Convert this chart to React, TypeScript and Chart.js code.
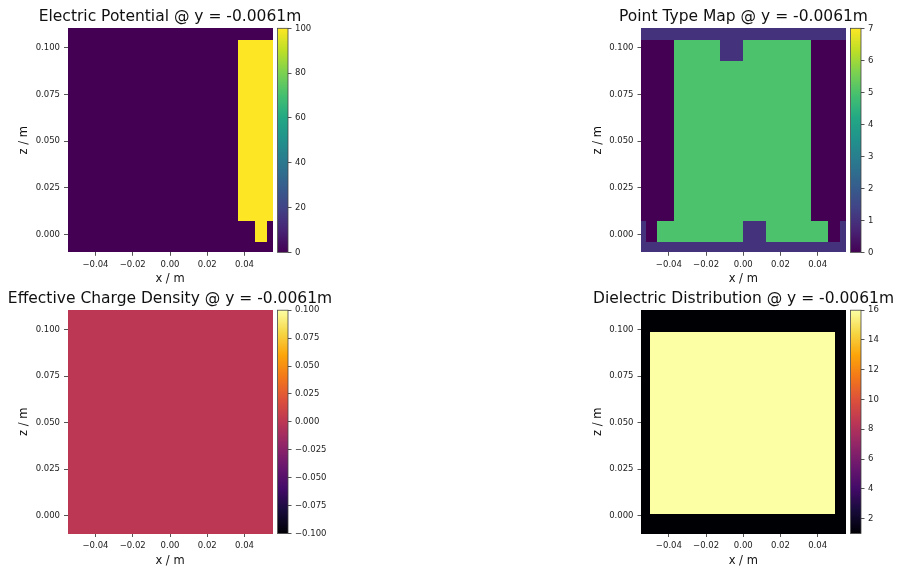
import React, { useEffect, useRef } from "react";
import { Chart, registerables } from "chart.js";

Chart.register(...registerables);

// ---------------- data ----------------
const titleSuffix = " @ y = -0.0061m";
const panelTitles = [
  "Electric Potential",
  "Point Type Map",
  "Effective Charge Density",
  "Dielectric Distribution",
];
const xLabel = "x / m";
const zLabel = "z / m";
const xTicks = [-0.04, -0.02, 0, 0.02, 0.04];
const zTicks = [0, 0.025, 0.05, 0.075, 0.1];
const xRange = [-0.055, 0.055];
const zRange = [-0.0096, 0.1104];

// cell edges shared by potential and point-type maps
const xEdges = [-0.055, -0.0525, -0.0465, -0.0371, -0.0127, 0.0, 0.012, 0.0364, 0.0455, 0.052, 0.055];
const zEdges = [-0.0096, -0.0043, 0.0073, 0.0927, 0.1041, 0.1104];

// rows from bottom (low z) to top (high z)
const potentialValues = [
  [0, 0, 0, 0, 0, 0, 0, 0, 0, 0],
  [0, 0, 0, 0, 0, 0, 0, 0, 100, 0],
  [0, 0, 0, 0, 0, 0, 0, 100, 100, 100],
  [0, 0, 0, 0, 0, 0, 0, 100, 100, 100],
  [0, 0, 0, 0, 0, 0, 0, 0, 0, 0],
];
const pointTypeValues = [
  [1, 1, 1, 1, 1, 1, 1, 1, 1, 1],
  [1, 0, 5, 5, 5, 1, 5, 5, 0, 1],
  [0, 0, 0, 5, 5, 5, 5, 0, 0, 0],
  [0, 0, 0, 5, 1, 5, 5, 0, 0, 0],
  [1, 1, 1, 1, 1, 1, 1, 1, 1, 1],
];
const chargeXEdges = [-0.055, 0.055];
const chargeZEdges = [-0.0096, 0.1104];
const chargeValues = [[0]];
const dielXEdges = [-0.055, -0.05, 0.0496, 0.055];
const dielZEdges = [-0.0096, 0.0008, 0.0988, 0.1104];
const dielValues = [
  [1, 1, 1],
  [1, 16, 1],
  [1, 1, 1],
];

const potentialRange = [0, 100];
const pointTypeRange = [0, 7];
const chargeRange = [-0.1, 0.1];
const dielRange = [1, 16];
const potentialTicks = [0, 20, 40, 60, 80, 100];
const pointTypeTicks = [0, 1, 2, 3, 4, 5, 6, 7];
const chargeTicks = [-0.1, -0.075, -0.05, -0.025, 0, 0.025, 0.05, 0.075, 0.1];
const dielTicks = [2, 4, 6, 8, 10, 12, 14, 16];

// ---------------- colormaps ----------------
const VIRIDIS = ["#440154", "#482475", "#414487", "#355f8d", "#2a788e", "#21918c", "#22a884", "#44bf70", "#7ad151", "#bddf26", "#fde725"];
const INFERNO = ["#000004", "#160b39", "#420a68", "#6a176e", "#932667", "#bc3754", "#dd513a", "#f37819", "#fca50a", "#f6d746", "#fcffa4"];

function hexToRgb(h: string) {
  const n = parseInt(h.slice(1), 16);
  return [(n >> 16) & 255, (n >> 8) & 255, n & 255];
}
function cmapColor(stops: string[], t: number) {
  const tt = Math.max(0, Math.min(1, t));
  const s = tt * (stops.length - 1);
  const i = Math.min(Math.floor(s), stops.length - 2);
  const f = s - i;
  const a = hexToRgb(stops[i]);
  const b = hexToRgb(stops[i + 1]);
  const c = a.map((v, k) => Math.round(v + (b[k] - v) * f));
  return `rgb(${c[0]},${c[1]},${c[2]})`;
}

const FONT = "'DejaVu Sans', sans-serif";
const TEXT = "#111";
const TICK_TEXT = "#222";
const TICK_LINE = "#555";
const fmt = (v: number, d: number) => v.toFixed(d).replace("-", "\u2212");

type PanelCfg = {
  title: string;
  xe: number[];
  ze: number[];
  values: number[][];
  cmap: string[];
  range: number[];
  cbTicks: number[];
  cbDigits: number;
  left: number;
  top: number;
  axisL: number;
  plotW: number;
  canvasW: number;
  titleH: number;
  plotH: number;
  axisB: number;
  xTitlePad: number;
};

function HeatPanel({ cfg }: { cfg: PanelCfg }) {
  const heatRef = useRef<HTMLCanvasElement>(null);
  const cbRef = useRef<HTMLCanvasElement>(null);
  const canvasH = Math.round(cfg.titleH + cfg.plotH + cfg.axisB);
  const cbPageLeft = cfg.left + cfg.axisL + cfg.plotW + 5;
  const cbCanvasLeft = Math.floor(cbPageLeft);
  const cbPadL = cbPageLeft - cbCanvasLeft;
  const cbW = 10.5;
  const cbCanvasW = 64;

  useEffect(() => {
    const heatPlugin = {
      id: "heatcells",
      beforeDatasetsDraw(chart: any) {
        const { ctx, scales } = chart;
        const xs = scales.x;
        const ys = scales.y;
        ctx.save();
        cfg.values.forEach((row, j) => {
          row.forEach((v, i) => {
            const x0 = Math.round(xs.getPixelForValue(cfg.xe[i]));
            const x1 = Math.round(xs.getPixelForValue(cfg.xe[i + 1]));
            const y0 = Math.round(ys.getPixelForValue(cfg.ze[j]));
            const y1 = Math.round(ys.getPixelForValue(cfg.ze[j + 1]));
            ctx.fillStyle = cmapColor(cfg.cmap, (v - cfg.range[0]) / (cfg.range[1] - cfg.range[0]));
            ctx.fillRect(x0, y1, x1 - x0, y0 - y1);
          });
        });
        ctx.restore();
      },
    };

    const cbPlugin = {
      id: "colorbar",
      beforeDatasetsDraw(chart: any) {
        const { ctx, chartArea, scales } = chart;
        const ys = scales.y;
        const [lo, hi] = cfg.range;
        const top = Math.floor(chartArea.top);
        const bottom = Math.ceil(chartArea.bottom);
        const x0 = chartArea.left;
        const w = chartArea.right - chartArea.left;
        ctx.save();
        ctx.beginPath();
        ctx.rect(x0, chartArea.top, w, chartArea.bottom - chartArea.top);
        ctx.clip();
        for (let py = top; py < bottom; py++) {
          const v = ys.getValueForPixel(py + 0.5);
          ctx.fillStyle = cmapColor(cfg.cmap, (v - lo) / (hi - lo));
          ctx.fillRect(x0, py, w, 1);
        }
        ctx.restore();
        ctx.save();
        ctx.strokeStyle = "#444";
        ctx.lineWidth = 0.8;
        ctx.strokeRect(x0, chartArea.top, w, chartArea.bottom - chartArea.top);
        ctx.restore();
      },
    };

    const tickFont = { family: FONT, size: 8.5, lineHeight: 1.2 };
    const heat = new Chart(heatRef.current as HTMLCanvasElement, {
      type: "scatter",
      data: { datasets: [] },
      options: {
        responsive: false,
        animation: false,
        devicePixelRatio: 1,
        layout: { padding: 0 },
        plugins: {
          legend: { display: false },
          tooltip: { enabled: false },
          title: {
            display: true,
            text: cfg.title,
            fullSize: true,
            color: TEXT,
            font: { family: FONT, size: 15.5, lineHeight: 1, weight: "normal" },
            padding: { top: 9, bottom: cfg.titleH - 9 - 15.5 },
          },
        },
        scales: {
          x: {
            type: "linear",
            position: "bottom",
            min: xRange[0],
            max: xRange[1],
            afterBuildTicks: (s: any) => {
              s.ticks = xTicks.map((v) => ({ value: v }));
            },
            afterFit: (s: any) => {
              s.height = cfg.axisB;
            },
            ticks: {
              callback: (v: any) => fmt(Number(v), 2),
              font: tickFont,
              color: TICK_TEXT,
              padding: 4,
              maxRotation: 0,
              autoSkip: false,
            },
            grid: { display: true, drawOnChartArea: false, drawTicks: true, tickLength: 3.5, color: TICK_LINE },
            border: { display: false },
            title: {
              display: true,
              text: xLabel,
              color: TEXT,
              font: { family: FONT, size: 11.5, lineHeight: 1 },
              padding: { top: 0, bottom: cfg.xTitlePad },
            },
          },
          y: {
            type: "linear",
            position: "left",
            min: zRange[0],
            max: zRange[1],
            afterBuildTicks: (s: any) => {
              s.ticks = zTicks.map((v) => ({ value: v }));
            },
            afterFit: (s: any) => {
              s.width = cfg.axisL;
            },
            ticks: {
              callback: (v: any) => fmt(Number(v), 3),
              font: tickFont,
              color: TICK_TEXT,
              padding: 4,
              autoSkip: false,
            },
            grid: { display: true, drawOnChartArea: false, drawTicks: true, tickLength: 3.5, color: TICK_LINE },
            border: { display: false },
            title: {
              display: true,
              text: zLabel,
              color: TEXT,
              font: { family: FONT, size: 11.5, lineHeight: 1 },
              padding: { top: 18, bottom: 0 },
            },
          },
          yR: {
            type: "linear",
            position: "right",
            display: true,
            grid: { display: false },
            ticks: { display: false },
            border: { display: false },
            afterFit: (s: any) => {
              s.width = cfg.canvasW - cfg.axisL - cfg.plotW;
            },
          },
        },
      } as any,
      plugins: [heatPlugin],
    });

    const cb = new Chart(cbRef.current as HTMLCanvasElement, {
      type: "scatter",
      data: { datasets: [] },
      options: {
        responsive: false,
        animation: false,
        devicePixelRatio: 1,
        layout: { padding: { left: cbPadL, right: 0, top: cfg.titleH, bottom: cfg.axisB } },
        plugins: { legend: { display: false }, tooltip: { enabled: false }, title: { display: false } },
        scales: {
          x: { type: "linear", display: false },
          y: {
            type: "linear",
            position: "right",
            min: cfg.range[0],
            max: cfg.range[1],
            afterBuildTicks: (s: any) => {
              s.ticks = cfg.cbTicks.map((v) => ({ value: v }));
            },
            afterFit: (s: any) => {
              s.width = cbCanvasW - cbPadL - cbW;
            },
            ticks: {
              callback: (v: any) => fmt(Number(v), cfg.cbDigits),
              font: tickFont,
              color: TICK_TEXT,
              padding: 3.5,
              autoSkip: false,
            },
            grid: { display: true, drawOnChartArea: false, drawTicks: true, tickLength: 3.5, color: TICK_LINE },
            border: { display: false },
          },
        },
      } as any,
      plugins: [cbPlugin],
    });

    return () => {
      heat.destroy();
      cb.destroy();
    };
  }, []);

  return (
    <>
      <canvas
        ref={heatRef}
        width={cfg.canvasW}
        height={canvasH}
        style={{ position: "absolute", left: cfg.left, top: cfg.top, width: cfg.canvasW, height: canvasH }}
      />
      <canvas
        ref={cbRef}
        width={cbCanvasW}
        height={canvasH}
        style={{ position: "absolute", left: cbCanvasLeft, top: cfg.top, width: cbCanvasW, height: canvasH }}
      />
    </>
  );
}

const topRow = { top: 0, titleH: 28.3, plotH: 224, axisB: 32.7, xTitlePad: 0.6 };
const botRow = { top: 282, titleH: 28.2, plotH: 223.3, axisB: 33.5, xTitlePad: 0 };
const leftCol = { left: 0, axisL: 67.5, plotW: 205, canvasW: 340 };
const rightCol = { left: 574, axisL: 67, plotW: 204.5, canvasW: 339 };

const panels: PanelCfg[] = [
  {
    title: panelTitles[0] + titleSuffix,
    xe: xEdges, ze: zEdges, values: potentialValues,
    cmap: VIRIDIS, range: potentialRange, cbTicks: potentialTicks, cbDigits: 0,
    ...leftCol, ...topRow,
  },
  {
    title: panelTitles[1] + titleSuffix,
    xe: xEdges, ze: zEdges, values: pointTypeValues,
    cmap: VIRIDIS, range: pointTypeRange, cbTicks: pointTypeTicks, cbDigits: 0,
    ...rightCol, ...topRow,
  },
  {
    title: panelTitles[2] + titleSuffix,
    xe: chargeXEdges, ze: chargeZEdges, values: chargeValues,
    cmap: INFERNO, range: chargeRange, cbTicks: chargeTicks, cbDigits: 3,
    ...leftCol, ...botRow,
  },
  {
    title: panelTitles[3] + titleSuffix,
    xe: dielXEdges, ze: dielZEdges, values: dielValues,
    cmap: INFERNO, range: dielRange, cbTicks: dielTicks, cbDigits: 0,
    ...rightCol, ...botRow,
  },
];

export default function App() {
  return (
    <div
      style={{
        position: "fixed",
        left: 0,
        top: 0,
        width: 897,
        height: 567,
        overflow: "hidden",
        background: "#fff",
      }}
    >
      {panels.map((p, i) => (
        <HeatPanel key={i} cfg={p} />
      ))}
    </div>
  );
}
